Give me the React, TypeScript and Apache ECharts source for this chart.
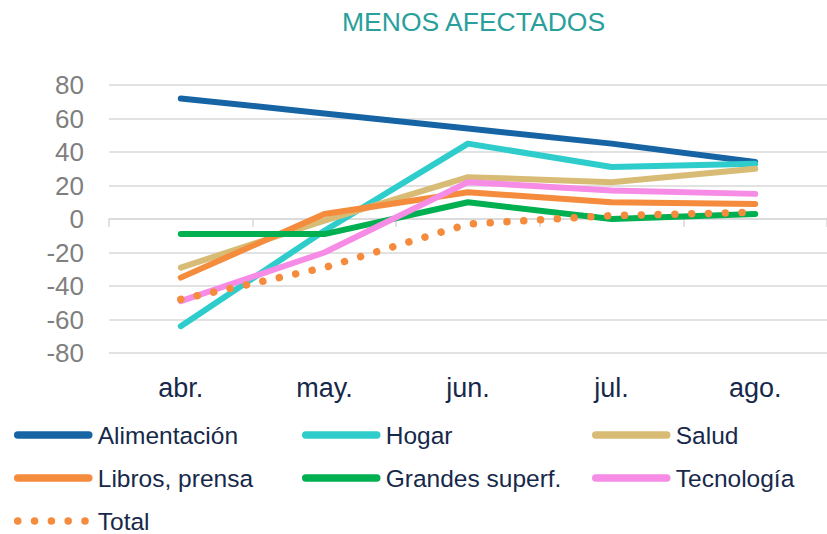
import React, { useEffect, useRef } from "react";
import * as echarts from "echarts";

const months = ["abr.", "may.", "jun.", "jul.", "ago."];
const alimentacion = [72, 63, 54, 45, 34];
const hogar = [-64, -7, 45, 31, 33];
const salud = [-29, -1, 25, 22, 30];
const libros = [-35, 3, 16, 10, 9];
const grandes = [-9, -9, 10, 0, 3];
const tecnologia = [-49, -20, 22, 17, 15];
const total = [-48, -29, -3, 2, 4];

const seriesDefs = [
  { name: "Alimentación", data: alimentacion, color: "#1664A4" },
  { name: "Hogar", data: hogar, color: "#2ECDCC" },
  { name: "Salud", data: salud, color: "#D8BC75" },
  { name: "Libros, prensa", data: libros, color: "#F58B3C" },
  { name: "Grandes superf.", data: grandes, color: "#00AF50" },
  { name: "Tecnología", data: tecnologia, color: "#F68CE6" },
  { name: "Total", data: total, color: "#F58B3C", dotted: true },
];

const legendPos = [
  { left: 14, top: 422 },
  { left: 302, top: 422 },
  { left: 592, top: 422 },
  { left: 14, top: 465 },
  { left: 302, top: 465 },
  { left: 592, top: 465 },
  { left: 14, top: 508 },
];

const FONT = "'Liberation Sans', Arial, sans-serif";

export default function App() {
  const ref = useRef<HTMLDivElement>(null);
  useEffect(() => {
    const chart = echarts.init(ref.current!, null, { renderer: "svg" });
    chart.setOption({
      animation: false,
      title: {
        text: "MENOS AFECTADOS",
        left: 342,
        top: 8,
        padding: 0,
        textStyle: { color: "#2A9F9C", fontSize: 26.5, fontWeight: "normal", fontFamily: FONT },
      },
      grid: { left: 109, right: -9, top: 85, bottom: 181, containLabel: false },
      legend: seriesDefs.map((s, i) => ({
        data: [s.name],
        left: legendPos[i].left,
        top: legendPos[i].top,
        padding: 0,
        itemWidth: 71,
        itemHeight: 8,
        itemStyle: { color: "transparent", borderWidth: 0 },
        lineStyle: { width: 7.5 },
        textStyle: {
          color: "#17294A",
          fontSize: 24.5,
          lineHeight: 26,
          fontFamily: FONT,
          padding: [0, 0, 0, 4],
        },
      })),
      xAxis: [
        {
          type: "category",
          data: months,
          position: "bottom",
          axisLine: { show: false, onZero: false },
          axisTick: { show: false },
          axisLabel: { color: "#17294A", fontSize: 27, fontFamily: FONT, margin: 21 },
        },
        {
          type: "category",
          data: months,
          position: "bottom",
          axisLine: { show: true, onZero: true, lineStyle: { color: "#D9D9D9", width: 1.5 } },
          axisTick: { show: true, length: 8, lineStyle: { color: "#D9D9D9", width: 1.5 } },
          axisLabel: { show: false },
        },
      ],
      yAxis: {
        type: "value",
        min: -80,
        max: 80,
        interval: 20,
        axisLine: { show: false },
        axisTick: { show: false },
        axisLabel: { color: "#7F7F7F", fontSize: 26, fontFamily: FONT, margin: 25 },
        splitLine: { lineStyle: { color: "#D9D9D9", width: 1.5 } },
      },
      series: seriesDefs.map((s) => ({
        name: s.name,
        type: "line",
        data: s.data,
        symbol: "none",
        color: s.color,
        lineStyle: s.dotted
          ? { color: s.color, width: 7.5, type: [0.01, 16.8], cap: "round", join: "round" }
          : { color: s.color, width: 6, cap: "round", join: "round" },
      })),
    });
    return () => chart.dispose();
  }, []);
  return (
    <div
      ref={ref}
      style={{ position: "fixed", left: 0, top: 0, width: 827, height: 534, background: "#fff" }}
    />
  );
}
